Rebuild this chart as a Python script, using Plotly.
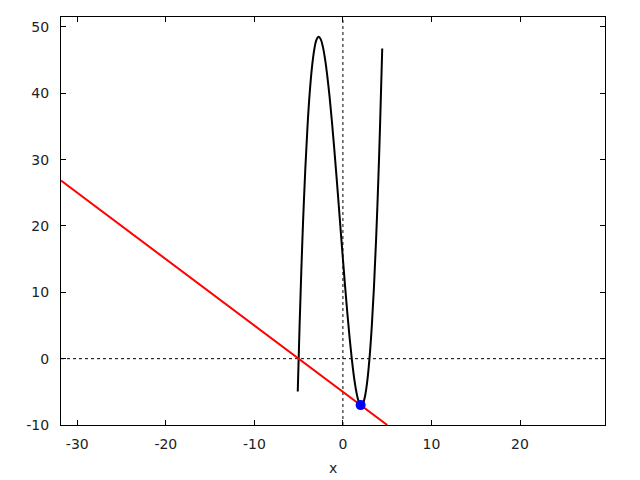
import plotly.graph_objects as go

# cubic curve samples
curve_x = [-5.1, -4.9, -4.7, -4.5, -4.25, -4.0, -3.75, -3.5, -3.25, -3.0, -2.75, -2.5,
           -2.25, -2.0, -1.75, -1.5, -1.25, -1.0, -0.75, -0.5, -0.25, 0.0, 0.25, 0.5,
           0.75, 1.0, 1.25, 1.5, 1.75, 2.0, 2.25, 2.5, 2.75, 3.0, 3.25, 3.5, 3.75, 4.0,
           4.2, 4.44]
curve_y = [-4.94, 4.66, 13.17, 20.63, 28.54, 35.0, 40.08, 43.88, 46.48, 48.0, 48.51, 48.13,
           46.92, 45.0, 42.45, 39.38, 35.86, 32.0, 27.89, 23.63, 19.30, 15.0, 10.83, 6.88,
           3.23, 0.0, -2.74, -4.88, -6.33, -7.0, -6.80, -5.63, -3.39, 0.0, 4.64, 10.63,
           18.04, 27.0, 35.33, 46.76]

# tangent line
line_x = [-31.84, 5.0]
line_y = [26.84, -10.0]

# tangent point
point_x = [2.0]
point_y = [-7.0]

x_ticks = [-30, -20, -10, 0, 10, 20]
x_labels = ["-30", "-20", "-10", "0", "10", "20"]
y_ticks = [-10, 0, 10, 20, 30, 40, 50]
y_labels = ["-10", "0", "10", "20", "30", "40", "50"]
x_range = [-31.84, 29.6]
y_range = [-10, 51.5]
x_title = "x"

FONT = "DejaVu Sans"

fig = go.Figure()
fig.add_trace(go.Scatter(x=[0, 0], y=y_range, mode="lines",
                         line=dict(color="black", width=1, dash="dot"), hoverinfo="skip"))
fig.add_trace(go.Scatter(x=x_range, y=[0, 0], mode="lines",
                         line=dict(color="black", width=1, dash="dot"), hoverinfo="skip"))
fig.add_trace(go.Scatter(x=curve_x, y=curve_y, mode="lines",
                         line=dict(color="black", width=2, shape="spline")))
fig.add_trace(go.Scatter(x=line_x, y=line_y, mode="lines",
                         line=dict(color="#ff0000", width=2)))
fig.add_trace(go.Scatter(x=point_x, y=point_y, mode="markers",
                         marker=dict(color="#0000ff", size=10)))

axis_common = dict(showgrid=False, zeroline=False, showline=True, linecolor="black",
                   linewidth=1, mirror="allticks", ticks="inside", ticklen=5,
                   tickcolor="black", automargin=False,
                   tickfont=dict(family=FONT, size=14, color="#222222"))

# page body has an 8px margin, so the figure is sized to fit within the window
fig.update_layout(
    width=632, height=472,
    margin=dict(l=53, r=35, t=9, b=55),
    plot_bgcolor="white", paper_bgcolor="white",
    showlegend=False,
    xaxis=dict(range=x_range, tickvals=x_ticks, ticktext=x_labels, ticklabelstandoff=6,
               **axis_common),
    yaxis=dict(range=y_range, tickvals=y_ticks, ticktext=y_labels, ticklabelstandoff=8,
               **axis_common),
    annotations=[dict(text=x_title, xref="paper", yref="paper", x=0.5, y=0,
                      xanchor="center", yanchor="top", yshift=-33, showarrow=False,
                      font=dict(family=FONT, size=14, color="#222222"))],
)

fig.write_html("out.html")
